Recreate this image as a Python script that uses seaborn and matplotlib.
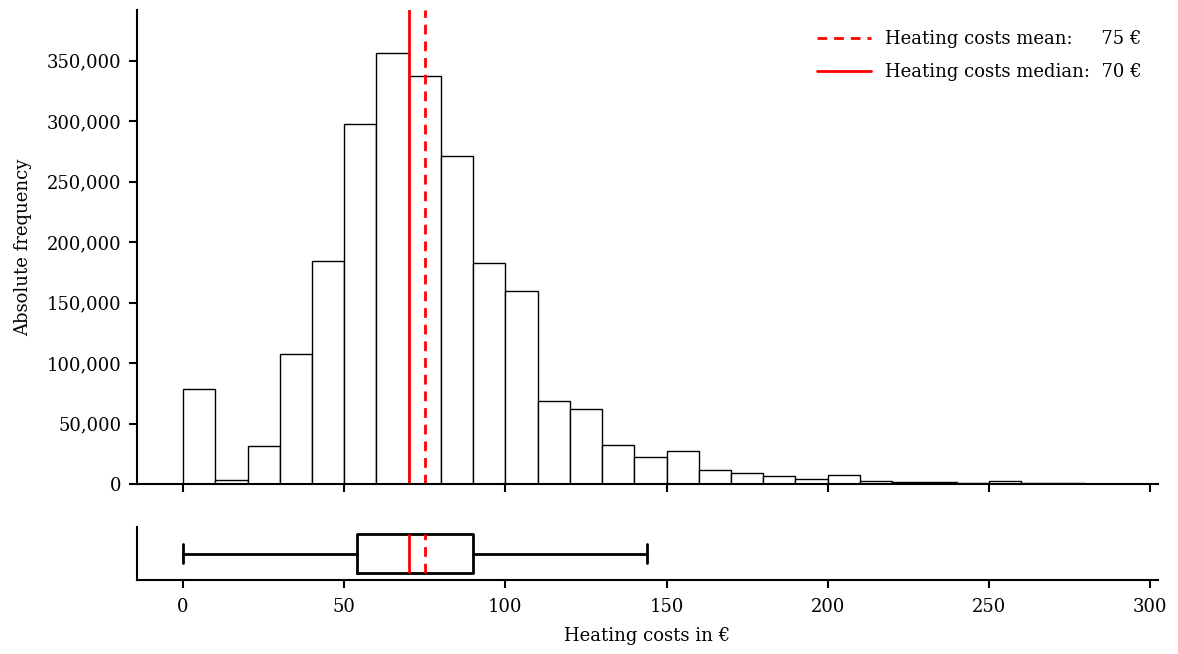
import numpy as np
import matplotlib
matplotlib.use("Agg")
import matplotlib.pyplot as plt
import matplotlib.ticker as mticker
import seaborn as sns

# Histogram data (bins of width 10 from 0 to 300)
bin_edges = list(range(0, 310, 10))
counts = [78600, 3300, 31400, 107600, 184500, 297900, 356600, 337600, 271400, 182900,
          159700, 68700, 62100, 32300, 22000, 27500, 11800, 8800, 6400, 3900,
          7200, 2500, 1700, 1400, 800, 2700, 600, 500, 300, 200]

mean_val = 75
median_val = 70
q1_val = 54
q3_val = 90
whis_lo = 0
whis_hi = 144

x_ticks = [0, 50, 100, 150, 200, 250, 300]
y_ticks = [0, 50000, 100000, 150000, 200000, 250000, 300000, 350000]

sns.set_theme(style="ticks")
plt.rcParams['font.family'] = ['DejaVu Serif']
plt.rcParams['font.size'] = 13
plt.rcParams['text.color'] = 'black'
plt.rcParams['axes.labelcolor'] = 'black'
plt.rcParams['xtick.color'] = 'black'
plt.rcParams['ytick.color'] = 'black'

fig = plt.figure(figsize=(11.78, 6.54), dpi=100)
ax = fig.add_axes([0.1163, 0.26, 0.983 - 0.1163, 0.9847 - 0.26])
axb = fig.add_axes([0.1163, 0.1131, 0.983 - 0.1163, 0.194 - 0.1131])

centers = [(a + b) / 2 for a, b in zip(bin_edges[:-1], bin_edges[1:])]
sns.histplot(x=centers, weights=counts, bins=bin_edges, ax=ax,
             color="white", edgecolor="black", linewidth=1.0, alpha=1.0)

l1 = ax.axvline(mean_val, color="red", linestyle=(0, (3.5, 2.5)), linewidth=2,
                label=f"Heating costs mean:     {mean_val} €")
l2 = ax.axvline(median_val, color="red", linestyle="-", linewidth=2,
                label=f"Heating costs median:  {median_val} €")

ax.set_xlim(-14.3, 302.5)
ax.set_ylim(0, 392000)
ax.set_xticks(x_ticks)
ax.set_xticklabels([])
ax.set_yticks(y_ticks)
ax.yaxis.set_major_formatter(mticker.FuncFormatter(lambda v, p: f"{int(v):,}"))
ax.set_ylabel("Absolute frequency", fontsize=13, labelpad=11, color="black")
ax.set_xlabel("")
ax.tick_params(axis="both", direction="out", length=6, width=1.5, labelsize=13,
               colors="black", pad=5)
for s in ["top", "right"]:
    ax.spines[s].set_visible(False)
for s in ["left", "bottom"]:
    ax.spines[s].set_linewidth(1.5)
    ax.spines[s].set_color("black")

leg = ax.legend(handles=[l1, l2], loc="upper right", frameon=False, fontsize=13,
                handlelength=3, labelspacing=0.85, bbox_to_anchor=(1.0, 0.992))
for t in leg.get_texts():
    t.set_color("black")

stats = [dict(med=median_val, q1=q1_val, q3=q3_val, whislo=whis_lo, whishi=whis_hi,
              mean=mean_val, fliers=[])]
axb.bxp(stats, orientation="horizontal", showmeans=True, meanline=True, showfliers=False,
        widths=0.75,
        boxprops=dict(color="black", linewidth=2),
        whiskerprops=dict(color="black", linewidth=2),
        capprops=dict(color="black", linewidth=2),
        medianprops=dict(color="red", linewidth=2),
        meanprops=dict(color="red", linewidth=2, linestyle=(0, (3.5, 2.5))))
axb.set_xlim(-14.3, 302.5)
axb.set_ylim(0.5, 1.5)
axb.set_yticks([])
axb.set_xticks(x_ticks)
axb.set_xlabel("Heating costs in €", fontsize=13, labelpad=8, color="black")
axb.tick_params(axis="x", direction="out", length=6, width=1.5, labelsize=13,
                colors="black", pad=7)
for s in ["top", "right"]:
    axb.spines[s].set_visible(False)
for s in ["left", "bottom"]:
    axb.spines[s].set_linewidth(1.5)
    axb.spines[s].set_color("black")

fig.savefig("out.png", dpi=100)
